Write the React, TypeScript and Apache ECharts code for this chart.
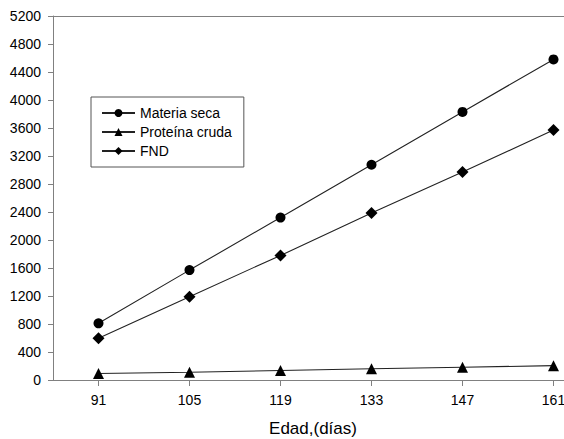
import React, { useEffect, useRef } from "react";
import * as echarts from "echarts";

const ages = [91, 105, 119, 133, 147, 161];
const materiaSeca = [810, 1570, 2320, 3075, 3830, 4580];
const proteinaCruda = [92, 110, 135, 160, 182, 205];
const fnd = [596, 1190, 1780, 2385, 2970, 3570];
const xTicks = [91, 105, 119, 133, 147, 161];

const FONT = "'Liberation Sans', Arial, sans-serif";

export default function App() {
  const ref = useRef<HTMLDivElement>(null);
  useEffect(() => {
    if (!ref.current) return;
    const chart = echarts.init(ref.current, undefined, { renderer: "svg" });
    const mk = (name: string, vals: number[], symbol: string, size: number) => ({
      name,
      type: "line",
      data: ages.map((a, i) => [a, vals[i]]),
      symbol,
      symbolSize: size,
      lineStyle: { color: "#222", width: 1.1 },
      itemStyle: { color: "#000" },
      emphasis: { disabled: true },
    });
    chart.setOption({
      animation: false,
      backgroundColor: "#fff",
      textStyle: { fontFamily: FONT },
      grid: {
        left: 53,
        top: 16,
        width: 520,
        height: 364,
        containLabel: false,
        outerBoundsMode: "none",
      },
      legend: {
        orient: "vertical",
        left: 91,
        top: 97,
        padding: [9, 12, 9, 10],
        itemGap: 5,
        itemWidth: 33,
        itemHeight: 10,
        borderColor: "#555",
        borderWidth: 1,
        textStyle: { fontSize: 14, color: "#000", fontFamily: FONT },
        data: ["Materia seca", "Proteína cruda", "FND"],
      },
      xAxis: {
        type: "value",
        min: 84,
        max: 164,
        name: "Edad,(días)",
        nameLocation: "middle",
        nameGap: 40,
        nameTextStyle: { fontSize: 17, color: "#000", fontFamily: FONT },
        axisLine: { show: true, lineStyle: { color: "#808080", width: 1 } },
        axisTick: {
          show: true,
          inside: false,
          length: 6,
          lineStyle: { color: "#808080" },
          customValues: xTicks,
        },
        axisLabel: {
          fontSize: 14,
          color: "#000",
          margin: 13,
          customValues: xTicks,
          fontFamily: FONT,
        },
        splitLine: { show: false },
      },
      yAxis: {
        type: "value",
        min: 0,
        max: 5200,
        interval: 400,
        axisLine: { show: true, lineStyle: { color: "#808080", width: 1 } },
        axisTick: { show: true, inside: false, length: 5, lineStyle: { color: "#808080" } },
        axisLabel: {
          fontSize: 14,
          color: "#000",
          margin: 12,
          fontFamily: FONT,
          formatter: (v: number) => String(v),
        },
        splitLine: { show: false },
      },
      graphic: [
        {
          type: "line",
          shape: { x1: 53, y1: 16.5, x2: 600, y2: 16.5 },
          style: { stroke: "#808080", lineWidth: 1 },
          silent: true,
        },
      ],
      series: [
        mk("Materia seca", materiaSeca, "circle", 10),
        mk("Proteína cruda", proteinaCruda, "triangle", 11),
        mk("FND", fnd, "diamond", 12),
      ],
    });
    return () => chart.dispose();
  }, []);
  return (
    <div style={{ position: "absolute", left: 0, top: 0, width: 564, height: 439, overflow: "hidden" }}>
      <div ref={ref} style={{ width: 580, height: 439 }} />
    </div>
  );
}
